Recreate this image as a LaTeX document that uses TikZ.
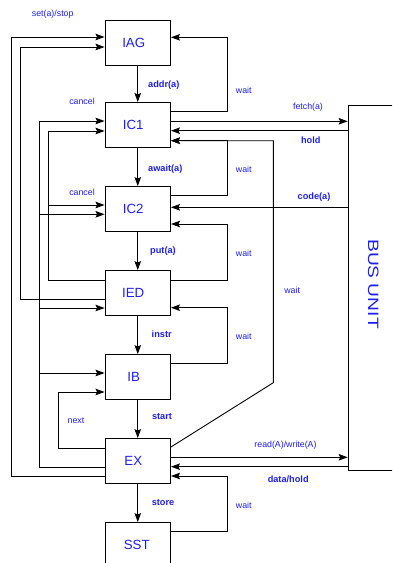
\documentclass[tikz,border=0pt]{standalone}
\usepackage{fontspec}
\usepackage{graphicx}
\setmainfont{Liberation Sans}
\usetikzlibrary{arrows.meta,calc}
\definecolor{lblue}{RGB}{30,30,240}
\begin{document}
\begin{tikzpicture}[x=1pt,y=-1pt,
  box/.style={draw,line width=0.9pt,minimum width=65.5pt,minimum height=44.5pt,inner sep=0pt,font=\fontsize{13.3}{14}\selectfont,text=lblue},
  conn/.style={line width=0.9pt},
  arr/.style={conn,-{Stealth[length=9pt,width=6.5pt,inset=1.5pt]}},
  lab/.style={font=\fontsize{8.8}{10}\selectfont,text=lblue,inner sep=0pt},
  blab/.style={font=\bfseries\fontsize{9.2}{10}\selectfont,text=lblue,inner sep=0pt}]
\useasboundingbox (0,0) rectangle (392,563);
\clip (0,0) rectangle (392,563);

% boxes
\node[box] (IAG) at (137.75,42.8) {\hspace*{-8pt}IAG};
\node[box] (IC1) at (137.75,124.7) {\hspace*{-9pt}IC1};
\node[box] (IC2) at (137.75,208.8) {\hspace*{-9pt}IC2};
\node[box] (IED) at (137.75,292.8) {\hspace*{-9pt}IED};
\node[box] (IB)  at (137.75,376.8) {\hspace*{-8pt}IB};
\node[box] (EX)  at (137.75,460.8) {\hspace*{-9pt}EX};
\node[box] (SST) at (137.75,544.8) {\hspace*{-2pt}SST};
\node[draw,line width=0.9pt,minimum width=80pt,minimum height=365.3pt,anchor=north west,inner sep=0pt] (bus) at (347.7,104.7) {};
\node[rotate=-90,font=\fontsize{15}{16}\selectfont,text=lblue,inner sep=0pt] (buslab) at (373.3,284) {\scalebox{1.28}[1]{BUS UNIT}};

% downward flow
\draw[arr] (IAG) -- (IC1);
\draw[arr] (IC1) -- (IC2);
\draw[arr] (IC2) -- (IED);
\draw[arr] (IED) -- (IB);
\draw[arr] (IB) -- (EX);
\draw[arr] (EX) -- (SST);

% left side
\draw[arr] ([yshift=-15.2pt]EX.west) -- ++(-93,0) |- ([yshift=5.8pt]IAG.west);
\draw[arr] ([yshift=-6.2pt]IED.west) -- ++(-84,0) |- ([yshift=-4.2pt]IAG.west);
\coordinate (cx) at ([xshift=-65.3pt,yshift=-6.2pt]EX.west);
\draw[arr] ([yshift=-6.2pt]EX.west) -- (cx) |- ([yshift=3.7pt]IC1.west);
\draw[arr] (cx) |- ([yshift=-5.5pt]IC2.west);
\draw[arr] (cx) |- ([yshift=-15.2pt]IED.west);
\draw[arr] (cx) |- ([yshift=3.8pt]IB.west);
\coordinate (cd) at ([xshift=-55.7pt,yshift=12.8pt]IED.west);
\draw[arr] ([yshift=12.8pt]IED.west) -- (cd) |- ([yshift=-6.3pt]IC1.west);
\draw[arr] (cd) |- ([yshift=3.8pt]IC2.west);
\draw[arr] ([yshift=12.8pt]EX.west) -- ++(-46.3,0) |- ([yshift=-15.2pt]IB.west);

% right side
\draw[arr] ([yshift=13pt]IC1.east) -- ++(56.2,0) |- ([yshift=5.5pt]IAG.east);
\coordinate (f1) at ([yshift=3.4pt]IC1.east);
\coordinate (f2) at ([yshift=-6pt]IC1.east);
\draw[arr] (f1) -- (f1 -| bus.west);
\draw[arr] (f2 -| bus.west) -- (f2);
\draw[arr] ([yshift=13.1pt]IC2.east) -- ++(56.2,0) |- ([yshift=-16pt]IC1.east);
\draw[arr] ([yshift=13.8pt]EX.east) -- (273.3,382.7) -- (273.3,140.7) -- ([yshift=-16pt]IC1.east);
\coordinate (c2) at ([yshift=1.5pt]IC2.east);
\draw[arr] (c2 -| bus.west) -- (c2);
\draw[arr] ([yshift=12.8pt]IED.east) -- ++(56.2,0) |- ([yshift=-15.2pt]IC2.east);
\draw[arr] ([yshift=13.5pt]IB.east) -- ++(56.2,0) |- ([yshift=-14.9pt]IED.east);
\coordinate (e1) at ([yshift=3.5pt]EX.east);
\coordinate (e2) at ([yshift=-5.9pt]EX.east);
\draw[arr] (e1) -- (e1 -| bus.west);
\draw[arr] (e2 -| bus.west) -- (e2);
\draw[arr] ([yshift=13.1pt]SST.east) -- ++(56.2,0) |- ([yshift=-15.2pt]EX.east);

% labels
\node[lab] (lset) at (52.7,14.3) {set(a)/stop};
\node[lab] (lcan1) at (82,101) {cancel};
\node[lab] (lcan2) at (82,192.7) {cancel};
\node[lab] (lnext) at (76,421) {next};
\node[blab] (laddr) at (163.8,85) {addr(a)};
\node[blab] (lawait) at (165.3,169) {await(a)};
\node[blab] (lput) at (163,251) {put(a)};
\node[blab] (linstr) at (161.7,334) {instr};
\node[blab] (lstart) at (162,416.7) {start};
\node[blab] (lstore) at (163,502.7) {store};
\node[lab] (w1) at (243.8,90.7) {wait};
\node[lab] (w2) at (243.8,169) {wait};
\node[lab] (w3) at (243.8,253) {wait};
\node[lab] (w4) at (243.8,336.7) {wait};
\node[lab] (w5) at (243.8,505) {wait};
\node[lab] (w6) at (292.2,290) {wait};
\node[lab] (lfetch) at (308,107.3) {fetch(a)};
\node[blab] (lhold) at (310.8,140.7) {hold};
\node[blab] (lcode) at (314,197.3) {code(a)};
\node[lab] (lrw) at (285.5,445) {read(A)/write(A)};
\node[blab] (ldata) at (288.2,479) {data/hold};
\end{tikzpicture}
\end{document}
